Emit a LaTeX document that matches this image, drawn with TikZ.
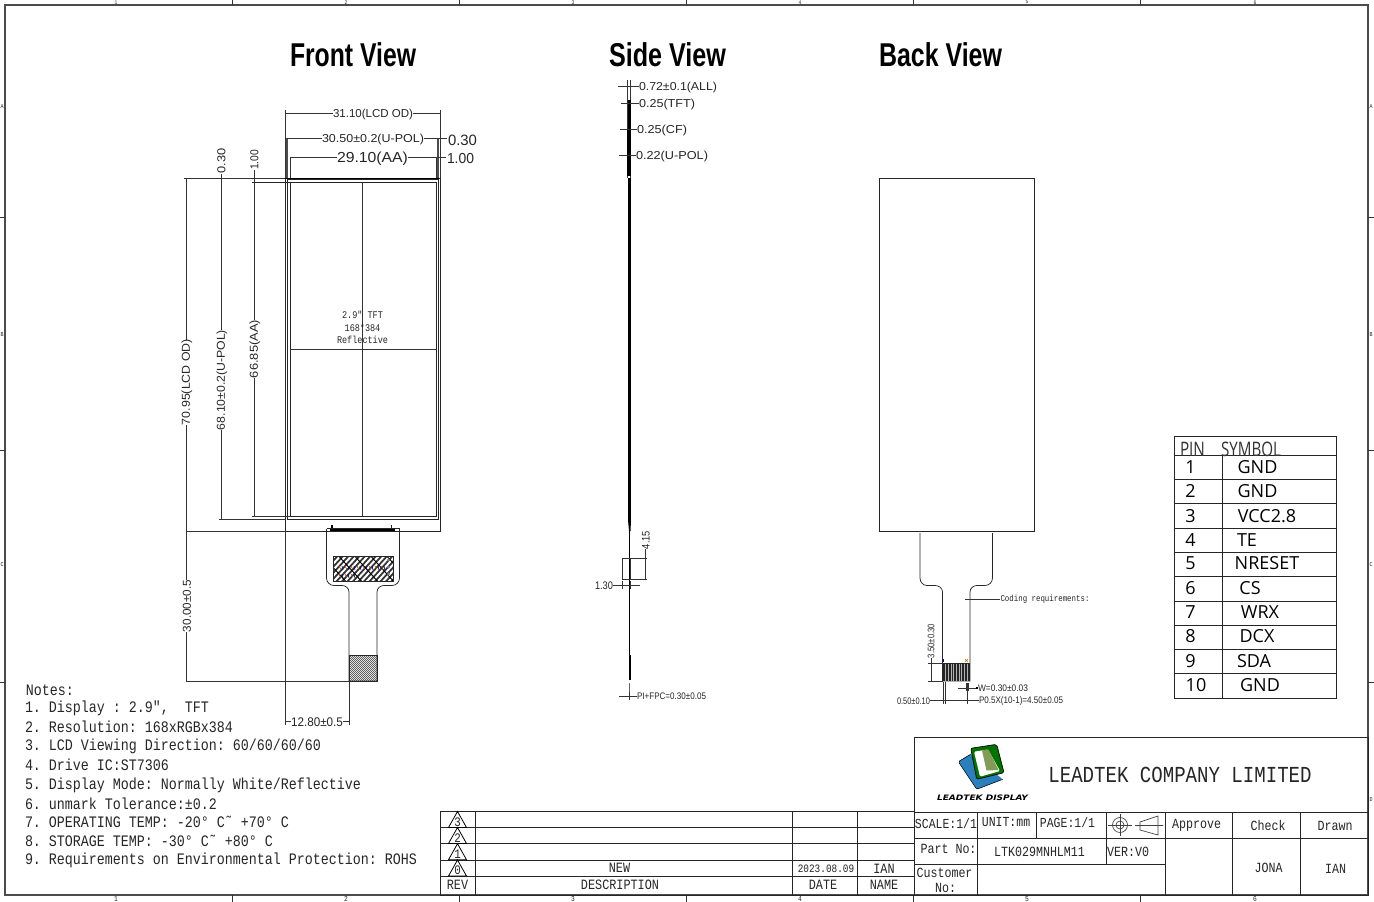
\documentclass[tikz,border=0pt]{standalone}
\usepackage{fontspec}
\usepackage{graphicx}
\setmainfont{Liberation Sans}
\newfontfamily\sm[FakeStretch=0.833]{Liberation Mono}
\newfontfamily\cad{Liberation Sans}
\newfontfamily\tb{Open Sans}
\newfontfamily\logof{DejaVu Sans}
\newcommand\fs[1]{\fontsize{\fpeval{#1*0.75}}{\fpeval{#1*0.95}}\selectfont}
% force a width in px, keep the natural height
\newcommand\fitw[2]{\resizebox{\fpeval{#1*0.75}pt}{\height}{#2}}
\tikzset{
  x=0.75pt,y=-0.75pt,
  ln/.style={line width=0.5pt,draw=black!80},
  hv/.style={line width=1.4pt,draw=black},
  med/.style={line width=0.55pt,draw=black!85},
  frame/.style={line width=1pt,draw=black!70},
  grid/.style={line width=0.7pt,draw=black!85},
  tx/.style={inner sep=0pt,outer sep=0pt,text=black},
  sim/.style={tx,font=\sm,text=black!85},
  dimt/.style={tx,font=\cad,text=black!85},
}
\begin{document}
\begin{tikzpicture}
\path[use as bounding box,fill=white] (0,0) rectangle (1374,902);
\clip (0,0) rectangle (1374,902);

% ---------- sheet frame ----------
\draw[frame] (5,5) rectangle (1368,895);
\foreach \x in {232,459,686,913,1140}{\draw[ln] (\x,0)--(\x,5); \draw[ln] (\x,895)--(\x,902);}
\foreach \y in {217,450,682}{\draw[ln] (0,\y)--(5,\y); \draw[ln] (1368,\y)--(1374,\y);}
\foreach \n/\x/\l in {a/116/1,b/346/2,c/573/3,d/800/4,e/1027/5,f/1255/6}{
  \node[sim,font=\sm\fs{5.5},anchor=center] (top\n) at (\x,2.2) {\l};
  \node[sim,font=\sm\fs{7.5},anchor=center] (bot\n) at (\x,898.7) {\l};
}
\foreach \n/\y/\l in {a/107/A,b/335/B,c/565/C}{
  \node[sim,font=\sm\fs{6},anchor=center] (lft\n) at (2.2,\y) {\l};
  \node[sim,font=\sm\fs{6},anchor=center] (rgt\n) at (1371.2,\y) {\l};
}
\node[sim,font=\sm\fs{6},anchor=center] (rgtd) at (1371.2,800) {D};

% ---------- titles ----------
\node[tx,font=\fs{33}\bfseries] (tf) at (353,55) {\fitw{126}{Front View}};
\node[tx,font=\fs{33}\bfseries] (ts) at (667.5,55) {\fitw{117}{Side View}};
\node[tx,font=\fs{33}\bfseries] (tb) at (940.5,55) {\fitw{123}{Back View}};

% ---------- front view ----------
\draw[med] (285,178) rectangle (440,531);
\draw[med] (287.5,179) rectangle (438.5,519);
\draw[med] (290,182) rectangle (436,516);
\draw[ln] (362.5,182)--(362.5,516);
\draw[ln] (290,349)--(436,349);
\draw[hv] (220,178.5)--(438.5,178.5);
\draw[med] (252,182)--(290,182);
\draw[ln] (184,178)--(285,178);
\draw[ln] (219,519)--(285,519);
\draw[ln] (252,516)--(290,516);
\draw[ln] (186,531)--(285,531);
% centre text
\node[sim,font=\sm\fs{10.2}] (c1) at (362.5,315) {2.9" TFT};
\node[sim,font=\sm\fs{10.2}] (c2) at (362.5,327.5) {168*384};
\node[sim,font=\sm\fs{10.2}] (c3) at (362.5,340) {Reflective};
% top dimensions
\draw[ln] (285,110)--(285,178) (440,110)--(440,178);
\draw[ln] (285,113)--(333,113) (413,113)--(440,113);
\node[dimt,font=\cad\fs{11.5}] (d1) at (373,114.5) {\fitw{80}{31.10(LCD OD)}};
\draw[line width=1pt,draw=black!70] (287,138)--(287,178) (438,138)--(438,178);
\draw[ln] (287,138)--(322,138) (424,138)--(447,138);
\node[dimt,font=\cad\fs{11.5}] (d2) at (373,139.5) {\fitw{102}{30.50±0.2(U-POL)}};
\node[dimt,font=\cad\fs{15},anchor=west] (d3) at (448,140) {\fitw{29}{0.30}};
\draw[ln] (290,157)--(290,178) (436,157)--(436,178);
\draw[ln] (290,157)--(337,157) (408,157)--(446,157);
\node[dimt,font=\cad\fs{14.5}] (d4) at (372.5,158.5) {\fitw{71}{29.10(AA)}};
\node[dimt,font=\cad\fs{14.5},anchor=west] (d5) at (447,159) {\fitw{27}{1.00}};
% left dimensions
\draw[ln] (186,178)--(186,340) (186,425)--(186,531);
\node[dimt,font=\cad\fs{11.5},rotate=90] (d6) at (187,382) {\fitw{86}{70.95(LCD OD)}};
\draw[ln] (221,174)--(221,330) (221,430)--(221,519);
\node[dimt,font=\cad\fs{11.5},rotate=90] (d7) at (222,380) {\fitw{100}{68.10±0.2(U-POL)}};
\node[dimt,font=\cad\fs{11.5},rotate=90] (d8) at (221.5,161) {\fitw{25}{0.30}};
\draw[ln] (254,170)--(254,320) (254,378)--(254,516);
\node[dimt,font=\cad\fs{11.5},rotate=90] (d9) at (255,349) {\fitw{58}{66.85(AA)}};
\node[dimt,font=\cad\fs{11.5},rotate=90] (d10) at (254.5,160) {\fitw{20}{1.00}};
\draw[ln] (186,531)--(186,580) (186,632)--(186,681);
\node[dimt,font=\cad\fs{11.5},rotate=90] (d11) at (187,606) {\fitw{52}{30.00±0.5}};
\draw[ln] (186,681)--(349,681);
\draw[ln] (285,531)--(285,725) (349,681)--(349,725);
\draw[ln] (285,721)--(291,721) (343,721)--(349,721);
\node[dimt,font=\cad\fs{12.5}] (d12) at (317,722) {\fitw{52}{12.80±0.5}};
% FPC
\draw[med] (326.5,529) -- (326.5,578) to[out=270,in=180] (334,585.5) -- (342,585.5)
  to[out=0,in=90] (349,592) -- (349,681) -- (377,681) -- (377,592)
  to[out=90,in=180] (384,585.5) -- (392,585.5) to[out=0,in=270] (399.5,578) -- (399.5,529);
\draw[line width=1.6pt,draw=black] (330,529.5)--(395,529.5);
\draw[med] (326.5,528)--(399.5,528);
\draw[line width=1.2pt,draw=black] (332,524.5)--(332,528);
\draw[med] (391,525)--(391,528);
\begin{scope}
  \clip (349,655) rectangle (377,681);
  \foreach \i in {-35,-33,...,40}{\draw[line width=0.45pt,draw=black!75] (345+\i,685)--(345+\i+35,650);}
\end{scope}
\draw[med] (349,655) rectangle (377,681);
\begin{scope}
  \clip (333,556) rectangle (393,581);
  \fill[black!80] (333,556) rectangle (393,581);
  \foreach \i in {-30,-24.5,...,80}{\draw[line width=1.5pt,draw=white] (333+\i,585)--(333+\i+30,552);}
  \foreach \i in {-30,-14,...,80}{\draw[line width=0.7pt,draw=black] (333+\i,552)--(333+\i+30,585);}
  \foreach \i in {339,345,...,383}{\draw[line width=0.5pt,draw=orange!70!black] (\i,566)--(\i+1.5,569); \draw[line width=0.5pt,draw=blue!60!black] (\i+3,566)--(\i+4,570);}
  \foreach \i in {339,345,351}{\draw[line width=0.5pt,draw=orange!70!black] (\i,574)--(\i+1.5,577); \draw[line width=0.5pt,draw=blue!60!black] (\i+3,574)--(\i+4,578);}
  \foreach \y in {560,567,574}{\fill[black!50] (388.5,\y) circle (1.6);}
\end{scope}
\draw[med] (333,556) rectangle (393,581);

% ---------- side view ----------
\draw[ln] (627.5,80)--(627.5,178) (630.5,80)--(630.5,178);
\fill[black] (628,100) rectangle (630.5,130);
\fill[black] (627,130) rectangle (631,176);
\fill[black] (627.5,178) rectangle (631,520);
\fill[black] (628,520) -- (631,520) -- (630.5,531) -- (629,531) -- cycle;
\draw[line width=0.8pt,draw=black] (629.5,530)--(629.5,655);
\fill[black] (628.5,655) rectangle (630.5,680);
\draw[line width=0.8pt,draw=black!60] (629.5,683)--(629.5,697);
\draw[ln] (618,86)--(639,86);
\draw[ln] (621,103)--(639,103);
\draw[ln] (620,129)--(637,129);
\draw[ln] (619,155.5)--(636,155.5);
\node[dimt,font=\cad\fs{11.5},anchor=west] (s1) at (639,87.5) {\fitw{78}{0.72±0.1(ALL)}};
\node[dimt,font=\cad\fs{11.5},anchor=west] (s2) at (639,104.5) {\fitw{56}{0.25(TFT)}};
\node[dimt,font=\cad\fs{11.5},anchor=west] (s3) at (637,130.5) {\fitw{50}{0.25(CF)}};
\node[dimt,font=\cad\fs{11.5},anchor=west] (s4) at (636,157) {\fitw{72}{0.22(U-POL)}};
\draw[ln] (622.5,558) rectangle (630,579);
\draw[ln] (630,558)--(647,558) (630,579)--(647,579) (645,549)--(645,579);
\node[dimt,font=\cad\fs{11},rotate=90] (s5) at (646,540) {\fitw{18}{4.15}};
\draw[ln] (613,585)--(640,585) (622.5,581)--(622.5,589) (630,581)--(630,589);
\node[dimt,font=\cad\fs{11},anchor=east] (s6) at (613,585.5) {\fitw{18}{1.30}};
\draw[ln] (619,696)--(637,696) (629.5,692)--(629.5,700);
\node[dimt,font=\cad\fs{9.5},anchor=west] (s7) at (637,696.5) {\fitw{69}{PI+FPC=0.30±0.05}};

% ---------- back view ----------
\draw[med] (879,178) rectangle (1034,531);
\draw[med] (920,533) -- (920,578) to[out=270,in=180] (927,585.5) -- (935,585.5)
  to[out=0,in=90] (942.5,592) -- (942.5,681) -- (970,681) -- (970,592)
  to[out=90,in=180] (977,585.5) -- (985,585.5) to[out=0,in=270] (992.5,578) -- (992.5,533);
\fill[black!85] (943,663) rectangle (970,681);
\foreach \x in {945.5,948.2,...,969}{\draw[line width=0.35pt,draw=white!70!black] (\x,664)--(\x,681);}
\draw[line width=0.6pt,draw=blue!70!black] (943.5,659)--(943.5,662);
\draw[line width=0.5pt,draw=orange!80!black] (965,659)--(968,662) (968,659)--(965,662);
\draw[ln] (965,599)--(1000,599);
\node[sim,font=\sm\fs{8.9},anchor=west] (b1) at (1000.5,599) {Coding requirements:};
\draw[ln] (928,663)--(943,663) (928,681)--(943,681) (931,658)--(931,681);
\node[dimt,font=\cad\fs{9.5},rotate=90] (b2) at (931,641) {\fitw{34}{3.50±0.30}};
\draw[ln] (958,688)--(977,688) (966,683)--(966,691) (968,683)--(968,691);
\fill[black] (975.5,686.5) rectangle (978,689);
\node[dimt,font=\cad\fs{9.5},anchor=west] (b3) at (978,688.5) {\fitw{50}{W=0.30±0.03}};
\draw[ln] (943,682)--(943,704) (945,682)--(945,704) (967,683)--(967,704);
\draw[ln] (930,700.5)--(979,700.5);
\node[dimt,font=\cad\fs{9.5},anchor=east] (b4) at (930,701) {\fitw{33}{0.50±0.10}};
\node[dimt,font=\cad\fs{9.5},anchor=west] (b5) at (979,701) {\fitw{84}{P0.5X(10-1)=4.50±0.05}};

% ---------- pin table ----------
\draw[grid] (1174,436) rectangle (1336,698);
\foreach \y in {455,479,503.5,528,552,576,601,625,649,673.5}{\draw[grid] (1174,\y)--(1336,\y);}
\draw[grid] (1222,455)--(1222,698);
\node[tx,font=\tb\fs{20},anchor=base west,text=black!80] (ph1) at (1180,456) {\fitw{25}{PIN}};
\node[tx,font=\tb\fs{20},anchor=base west,text=black!80] (ph2) at (1221,456) {\fitw{60}{SYMBOL}};
\foreach \i/\y/\nx/\sx/\s in {1/467/1190.5/1257.5/GND,2/491/1190.5/1257.5/GND,3/516/1190.5/1267/VCC2.8,4/540/1190.5/1247/TE,5/563.5/1190.5/1267/NRESET,6/588/1190.5/1250/CS,7/612/1190.5/1260/WRX,8/636/1190.5/1257/DCX,9/661/1190.5/1254/SDA,10/685.5/1196/1260/GND}{
  \node[tx,font=\tb\fs{18}] (pn\i) at (\nx,\y) {\i};
  \node[tx,font=\tb\fs{18}] (ps\i) at (\sx,\y) {\s};
}

% ---------- notes ----------
\node[sim,font=\sm\fs{16},anchor=west] (n0) at (26,690) {Notes:};
\node[sim,font=\sm\fs{16},anchor=west] (n1) at (25,708) {1.~Display~:~2.9″,~~TFT};
\node[sim,font=\sm\fs{16},anchor=west] (n2) at (25,727) {2.~Resolution:~168xRGBx384};
\node[sim,font=\sm\fs{16},anchor=west] (n3) at (25,746.5) {3.~LCD~Viewing~Direction:~60/60/60/60};
\node[sim,font=\sm\fs{16},anchor=west] (n4) at (25,765) {4.~Drive~IC:ST7306};
\node[sim,font=\sm\fs{16},anchor=west] (n5) at (25,785) {5.~Display~Mode:~Normally~White/Reflective};
\node[sim,font=\sm\fs{16},anchor=west] (n6) at (25,803.5) {6.~unmark~Tolerance:±0.2};
\node[sim,font=\sm\fs{16},anchor=west] (n7) at (25,822) {7.~OPERATING~TEMP:~-20°~C˜~+70°~C};
\node[sim,font=\sm\fs{16},anchor=west] (n8) at (25,841) {8.~STORAGE~TEMP:~-30°~C˜~+80°~C};
\node[sim,font=\sm\fs{16},anchor=west] (n9) at (25,860) {9.~Requirements~on~Environmental~Protection:~ROHS};

% ---------- revision table ----------
\draw[grid] (440,811.7) rectangle (914,895);
\foreach \y in {827.7,843.7,860,876}{\draw[grid] (440,\y)--(914,\y);}
\draw[grid] (475.7,811.7)--(475.7,895) (792.7,811.7)--(792.7,895) (857.3,811.7)--(857.3,895);
\foreach \i/\y in {3/827.5,2/843.5,1/859.7,0/876}{
  \draw[line width=0.6pt,draw=black] (448.5,\y)--(466.5,\y)--(457.5,\y-16)--cycle;
  \node[sim,font=\sm\fs{13}] (tri\i) at (457.5,\y-5.5) {\i};
}
\node[sim,font=\sm\fs{14.2}] (r1) at (619.5,867.5) {NEW};
\node[sim,font=\sm\fs{14.2}] (r2) at (620,884.5) {DESCRIPTION};
\node[sim,font=\sm\fs{11.3}] (r3) at (826,868.5) {2023.08.09};
\node[sim,font=\sm\fs{14.2}] (r4) at (884,869) {IAN};
\node[sim,font=\sm\fs{14.2}] (r5) at (457.5,885) {REV};
\node[sim,font=\sm\fs{14.2}] (r6) at (823,884.5) {DATE};
\node[sim,font=\sm\fs{14.2}] (r7) at (884,884.5) {NAME};

% ---------- title block ----------
\draw[grid] (914,737) rectangle (1368,895);
\draw[grid] (914,812)--(1368,812) (914,838.3)--(1368,838.3) (914,864)--(1165,864);
\draw[grid] (977,812)--(977,895) (1036,812)--(1036,838.3) (1106,812)--(1106,864)
  (1165,812)--(1165,895) (1232.5,812)--(1232.5,895) (1300,812)--(1300,895);
\node[sim,font=\sm\fs{22.9}] (t0) at (1180,775) {LEADTEK COMPANY LIMITED};
\node[sim,font=\sm\fs{13.8}] (t1) at (946,823.5) {SCALE:1/1};
\node[sim,font=\sm\fs{13.8}] (t2) at (1006,822.5) {UNIT:mm};
\node[sim,font=\sm\fs{13.8}] (t3) at (1067.5,822.5) {PAGE:1/1};
\node[sim,font=\sm\fs{14}] (t4) at (1196.5,825) {Approve};
\node[sim,font=\sm\fs{14}] (t5) at (1268,825.5) {Check};
\node[sim,font=\sm\fs{14}] (t6) at (1335,825.5) {Drawn};
\node[sim,font=\sm\fs{14}] (t7) at (948.5,848.5) {Part No:};
\node[sim,font=\sm\fs{14}] (t8) at (1039.5,851.5) {LTK029MNHLM11};
\node[sim,font=\sm\fs{14}] (t9) at (1128,851.5) {VER:V0};
\node[sim,font=\sm\fs{14}] (t10) at (944.5,872.5) {Customer};
\node[sim,font=\sm\fs{14}] (t11) at (945.5,888) {No:};
\node[sim,font=\sm\fs{14}] (t12) at (1268.5,867.5) {JONA};
\node[sim,font=\sm\fs{14}] (t13) at (1335.5,868.5) {IAN};
% projection symbol
\draw[line width=0.5pt,draw=black!75] (1120,825) circle (7.5) (1120,825) circle (4) ;
\draw[line width=0.5pt,draw=black!75] (1108,825)--(1132,825) (1120,814)--(1120,836);
\draw[line width=0.5pt,draw=black!75] (1140,822)--(1158,816)--(1158,835)--(1140,830)--cycle (1135,825.5)--(1163,825.5);
% logo
\fill[rounded corners=1pt,fill=cyan!70!blue!85!black] (958.3,761.7)--(971,754)--(1002.7,779.3)--(976.7,789.3)--cycle;
\draw[rounded corners=1pt,line width=0.4pt,draw=black] (971,754)--(958.3,761.7)--(976.7,789.3)--(1002.7,779.3);
\filldraw[rounded corners=1.5pt,fill=green!45!black,draw=black,line width=0.5pt] (970.7,748.3)--(996.7,744.3)--(1004,772.7)--(976.7,779.3)--cycle;
\fill[rounded corners=1pt,fill=white] (974,751.7)--(988,749.5)--(1000,771)--(980,776.7)--cycle;
\fill[fill=olive!55!green!70!black!75!white] (982,750.5)--(988.5,749.5)--(998.5,770)--(986.5,770.5)--cycle;
\node[tx,font=\logof\fs{7.5}\bfseries\itshape] (lg) at (982.5,797.5) {\fitw{91}{LEADTEK DISPLAY}};
\end{tikzpicture}
\end{document}
